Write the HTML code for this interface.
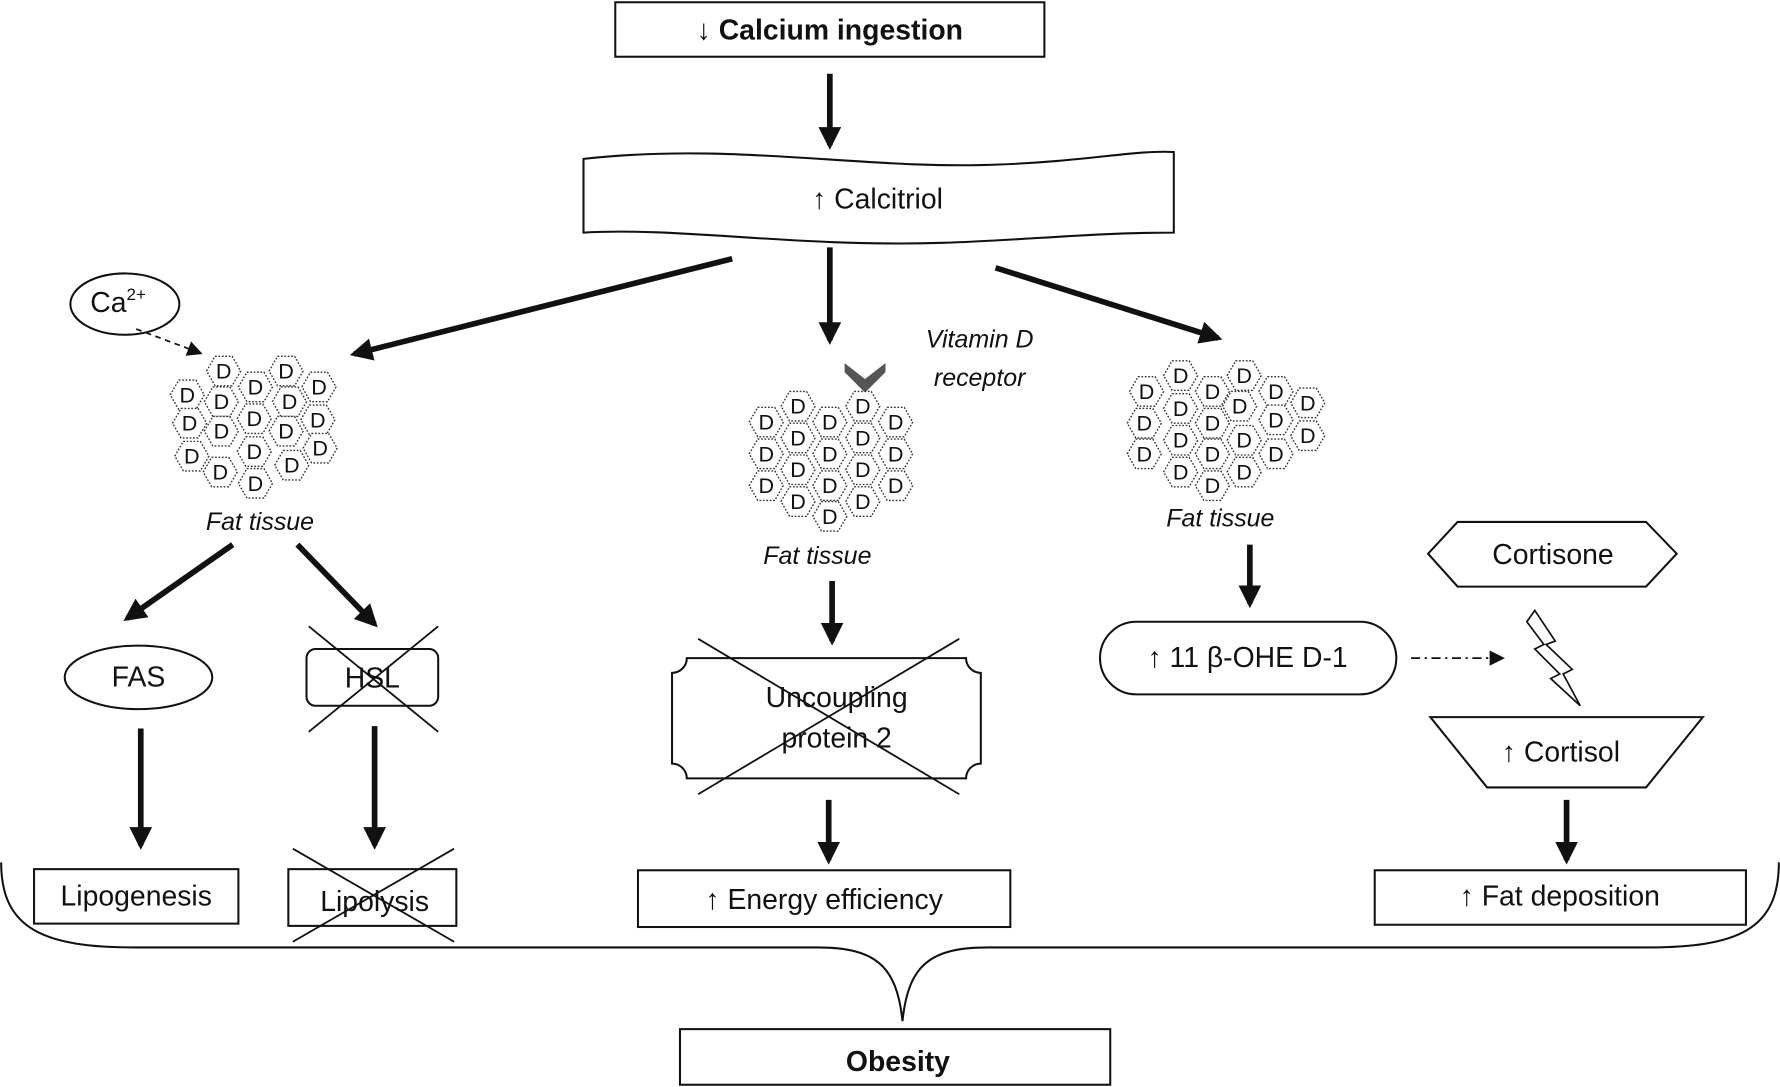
<!DOCTYPE html>
<html><head><meta charset="utf-8"><style>
html,body{margin:0;padding:0;background:#fff;}
svg{display:block;}
text{font-family:"Liberation Sans",sans-serif;fill:#111;}
</style></head><body>
<svg width="1780" height="1087" viewBox="0 0 1568 958" preserveAspectRatio="none" xmlns="http://www.w3.org/2000/svg">
<defs>
<marker id="ah" viewBox="0 0 10 10" refX="8" refY="5" markerWidth="4" markerHeight="4" orient="auto"><path d="M0,0 L10,5 L0,10 z" fill="#111"/></marker>
<marker id="ah2" viewBox="0 0 10 10" refX="8" refY="5" markerWidth="9" markerHeight="9" orient="auto"><path d="M0,0 L10,5 L0,10 z" fill="#111"/></marker>
<g id="hx"><polygon points="-15,0 -7.5,-13 7.5,-13 15,0 7.5,13 -7.5,13" fill="#fff" stroke="#333" stroke-width="1.2" stroke-dasharray="1.5,1.5"/></g>
</defs>
<g stroke="#111" fill="none" stroke-width="1.8">
<rect x="542" y="2" width="378" height="48"/>
<path d="M514,140 C650,125 760,150 880,145 C960,142 1000,132 1034,134 L1034,205 C960,205 900,212 830,214 C700,218 600,200 514,205 Z"/>
<ellipse cx="110" cy="268" rx="48" ry="27"/>
<ellipse cx="122" cy="597" rx="65" ry="28"/>
<rect x="270" y="572" width="116" height="50" rx="8"/>
<rect x="30" y="766" width="180" height="48"/>
<rect x="254" y="766" width="148" height="50"/>
<path d="M605,580 L851,580 A13,13 0 0 0 864,593 L864,673 A13,13 0 0 0 851,686 L605,686 A13,13 0 0 0 592,673 L592,593 A13,13 0 0 0 605,580 Z"/>
<rect x="562" y="767" width="328" height="50"/>
<rect x="969" y="548" width="261" height="64" rx="32"/>
<polygon points="1258,488 1284,460 1450,460 1477,488 1450,517 1284,517"/>
<polygon points="1260,632 1500,632 1450,694 1310,694"/>
<rect x="1211" y="767" width="327" height="48"/>
<rect x="599" y="907" width="379" height="49"/>
<path d="M1,760 C1,820 40,835 120,835 L720,835 C770,835 790,850 795,900 C800,850 820,835 870,835 L1450,835 C1530,835 1567,820 1567,760"/>
<path d="M1352,538 L1370,565 L1362,568 L1385,590 L1377,594 L1392,622 L1366,598 L1374,594 L1352,572 L1360,568 L1345,548 Z" stroke-width="1.5"/>
</g>
<g stroke="#111" stroke-width="1.6">
<line x1="272" y1="552" x2="386" y2="645"/><line x1="386" y1="552" x2="272" y2="645"/>
<line x1="258" y1="748" x2="400" y2="830"/><line x1="400" y1="748" x2="258" y2="830"/>
<line x1="615" y1="563" x2="845" y2="700"/><line x1="845" y1="563" x2="615" y2="700"/>
</g>
<g stroke="#111" stroke-width="5" marker-end="url(#ah)" fill="none">
<line x1="731" y1="65" x2="731" y2="128"/>
<line x1="645" y1="228" x2="312" y2="312"/>
<line x1="731" y1="218" x2="731" y2="300"/>
<line x1="877" y1="236" x2="1073" y2="298"/>
<line x1="205" y1="480" x2="112" y2="545"/>
<line x1="262" y1="480" x2="330" y2="550"/>
<line x1="124" y1="642" x2="124" y2="745"/>
<line x1="330" y1="640" x2="330" y2="745"/>
<line x1="733" y1="512" x2="733" y2="565"/>
<line x1="730" y1="705" x2="730" y2="758"/>
<line x1="1101" y1="480" x2="1101" y2="532"/>
<line x1="1380" y1="705" x2="1380" y2="758"/>
</g>
<line x1="120" y1="290" x2="176" y2="311" stroke="#111" stroke-width="1.5" stroke-dasharray="5,4" marker-end="url(#ah2)"/>
<line x1="1243" y1="580" x2="1323" y2="580" stroke="#111" stroke-width="1.5" stroke-dasharray="8,4,2,4" marker-end="url(#ah2)"/>
<path d="M744,320 L762,334 L780,320 L780,328 L762,346 L744,328 Z" fill="#555"/>
<g>
<use href="#hx" x="197" y="327"/><use href="#hx" x="252" y="327"/><use href="#hx" x="165" y="348"/><use href="#hx" x="195" y="354"/><use href="#hx" x="225" y="341"/><use href="#hx" x="255" y="354"/><use href="#hx" x="281" y="341"/><use href="#hx" x="167" y="373"/><use href="#hx" x="195" y="380"/><use href="#hx" x="224" y="369"/><use href="#hx" x="252" y="380"/><use href="#hx" x="280" y="370"/><use href="#hx" x="169" y="402"/><use href="#hx" x="194" y="416"/><use href="#hx" x="224" y="398"/><use href="#hx" x="257" y="410"/><use href="#hx" x="282" y="395"/><use href="#hx" x="225" y="426"/>
<use href="#hx" x="703" y="358"/><use href="#hx" x="760" y="358"/><use href="#hx" x="675" y="372"/><use href="#hx" x="731" y="372"/><use href="#hx" x="789" y="372"/><use href="#hx" x="703" y="386"/><use href="#hx" x="760" y="386"/><use href="#hx" x="675" y="400"/><use href="#hx" x="731" y="400"/><use href="#hx" x="789" y="400"/><use href="#hx" x="703" y="414"/><use href="#hx" x="760" y="414"/><use href="#hx" x="675" y="428"/><use href="#hx" x="731" y="428"/><use href="#hx" x="789" y="428"/><use href="#hx" x="703" y="442"/><use href="#hx" x="760" y="442"/><use href="#hx" x="731" y="455"/>
<use href="#hx" x="1040" y="331"/><use href="#hx" x="1096" y="331"/><use href="#hx" x="1010" y="345"/><use href="#hx" x="1068" y="345"/><use href="#hx" x="1124" y="345"/><use href="#hx" x="1152" y="355"/><use href="#hx" x="1040" y="360"/><use href="#hx" x="1092" y="358"/><use href="#hx" x="1008" y="373"/><use href="#hx" x="1068" y="373"/><use href="#hx" x="1124" y="370"/><use href="#hx" x="1152" y="384"/><use href="#hx" x="1040" y="388"/><use href="#hx" x="1096" y="388"/><use href="#hx" x="1008" y="400"/><use href="#hx" x="1068" y="400"/><use href="#hx" x="1124" y="400"/><use href="#hx" x="1040" y="416"/><use href="#hx" x="1096" y="416"/><use href="#hx" x="1068" y="428"/>
</g>
<g font-size="19" text-anchor="middle" dominant-baseline="central">
<text x="197" y="327">D</text><text x="252" y="327">D</text><text x="165" y="348">D</text><text x="195" y="354">D</text><text x="225" y="341">D</text><text x="255" y="354">D</text><text x="281" y="341">D</text><text x="167" y="373">D</text><text x="195" y="380">D</text><text x="224" y="369">D</text><text x="252" y="380">D</text><text x="280" y="370">D</text><text x="169" y="402">D</text><text x="194" y="416">D</text><text x="224" y="398">D</text><text x="257" y="410">D</text><text x="282" y="395">D</text><text x="225" y="426">D</text>
<text x="703" y="358">D</text><text x="760" y="358">D</text><text x="675" y="372">D</text><text x="731" y="372">D</text><text x="789" y="372">D</text><text x="703" y="386">D</text><text x="760" y="386">D</text><text x="675" y="400">D</text><text x="731" y="400">D</text><text x="789" y="400">D</text><text x="703" y="414">D</text><text x="760" y="414">D</text><text x="675" y="428">D</text><text x="731" y="428">D</text><text x="789" y="428">D</text><text x="703" y="442">D</text><text x="760" y="442">D</text><text x="731" y="455">D</text>
<text x="1040" y="331">D</text><text x="1096" y="331">D</text><text x="1010" y="345">D</text><text x="1068" y="345">D</text><text x="1124" y="345">D</text><text x="1152" y="355">D</text><text x="1040" y="360">D</text><text x="1092" y="358">D</text><text x="1008" y="373">D</text><text x="1068" y="373">D</text><text x="1124" y="370">D</text><text x="1152" y="384">D</text><text x="1040" y="388">D</text><text x="1096" y="388">D</text><text x="1008" y="400">D</text><text x="1068" y="400">D</text><text x="1124" y="400">D</text><text x="1040" y="416">D</text><text x="1096" y="416">D</text><text x="1068" y="428">D</text>
</g>
<g text-anchor="middle" dominant-baseline="central" font-size="25">
<text x="731" y="27" font-weight="bold">↓ Calcium ingestion</text>
<text x="773" y="176">↑ Calcitriol</text>
<text x="104" y="267">Ca<tspan font-size="15" dy="-8">2+</tspan></text>
<text x="229" y="460" font-style="italic" font-size="22">Fat tissue</text>
<text x="720" y="490" font-style="italic" font-size="22">Fat tissue</text>
<text x="1075" y="457" font-style="italic" font-size="22">Fat tissue</text>
<text x="863" y="299" font-style="italic" font-size="22">Vitamin D</text>
<text x="863" y="333" font-style="italic" font-size="22">receptor</text>
<text x="122" y="597">FAS</text>
<text x="328" y="598">HSL</text>
<text x="120" y="790">Lipogenesis</text>
<text x="330" y="795">Lipolysis</text>
<text x="737" y="615">Uncoupling</text>
<text x="737" y="651">protein 2</text>
<text x="726" y="793">↑ Energy efficiency</text>
<text x="1099" y="580">↑ 11 β-OHE D-1</text>
<text x="1368" y="489">Cortisone</text>
<text x="1375" y="663">↑ Cortisol</text>
<text x="1374" y="790">↑ Fat deposition</text>
<text x="791" y="936" font-weight="bold">Obesity</text>
</g>
</svg>
</body></html>
